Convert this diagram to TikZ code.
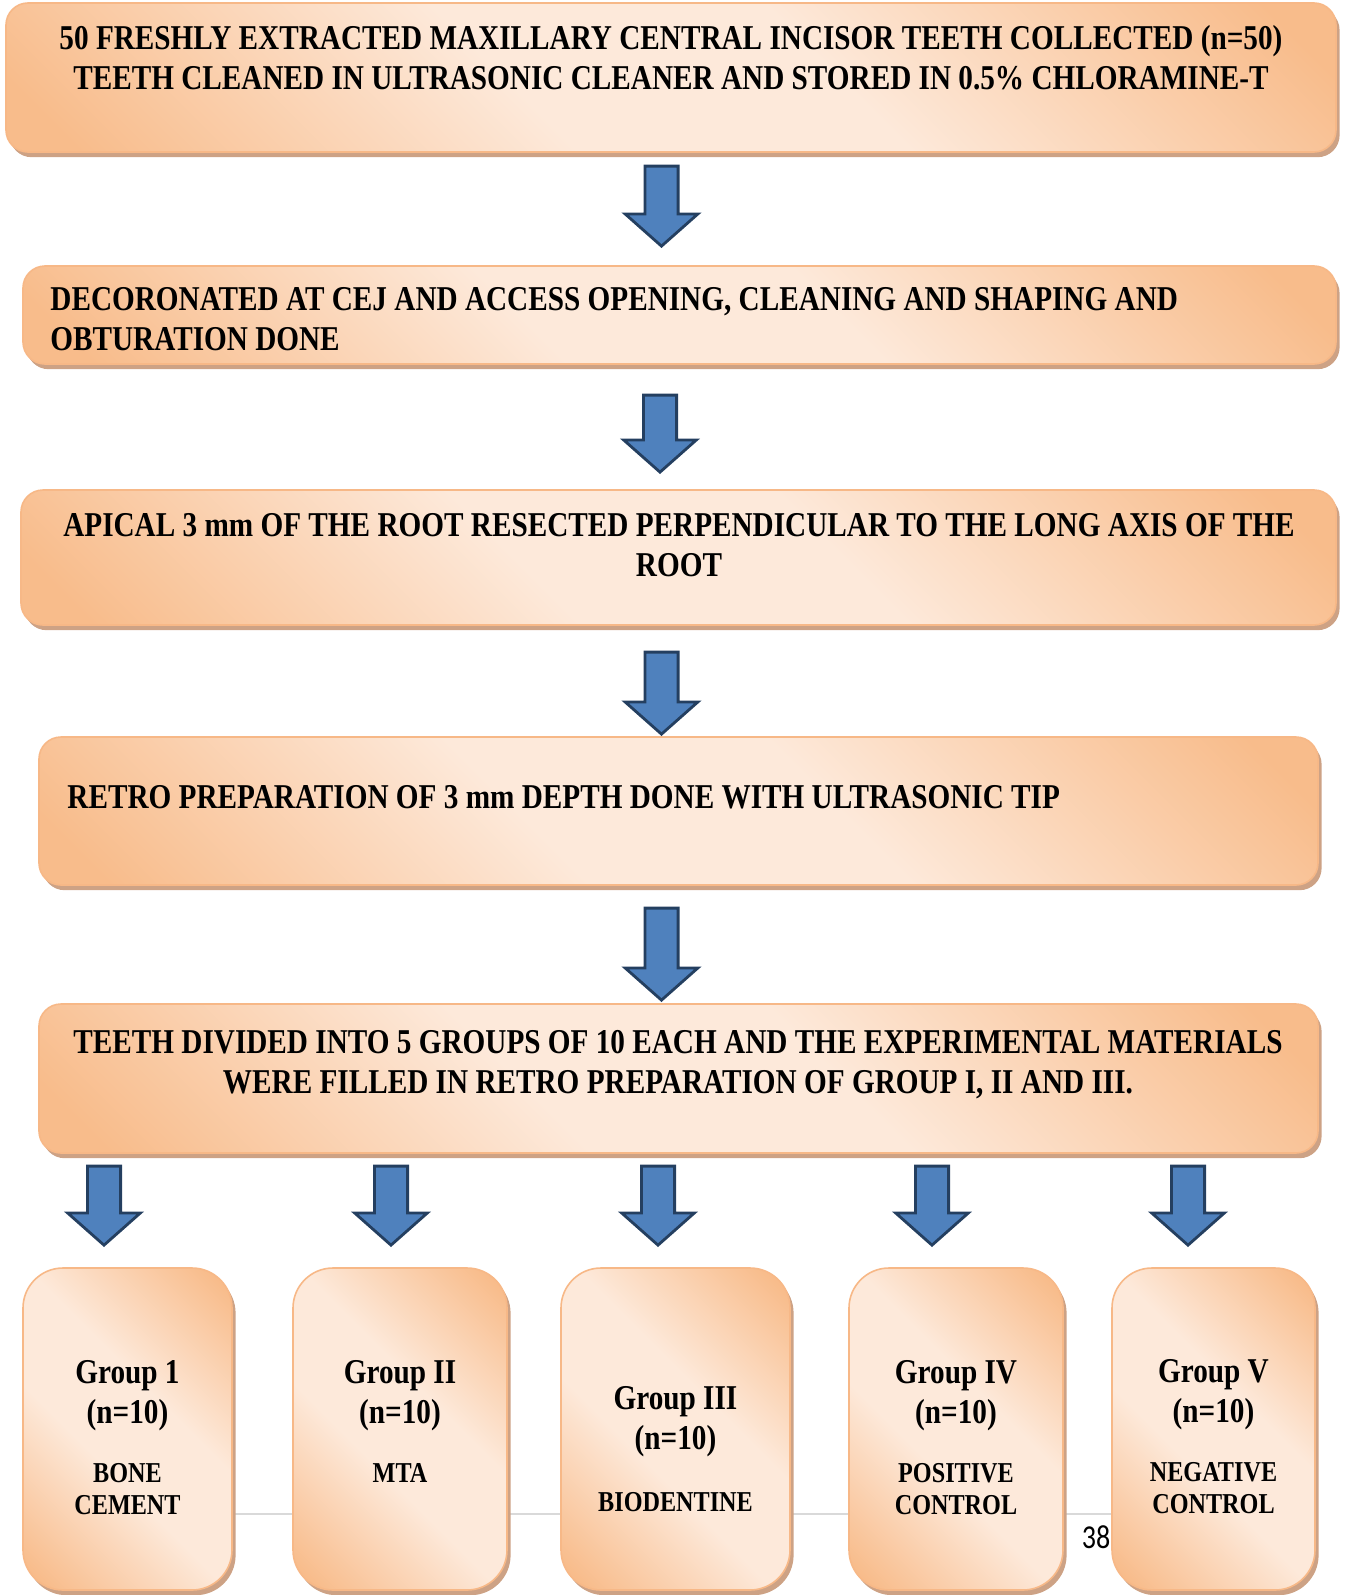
\documentclass[tikz,border=0pt]{standalone}
\usepackage{fontspec}
\setmainfont{Liberation Serif}[FakeStretch=0.84]
\newfontfamily\pagenofont{Carlito}[FakeStretch=0.84]
\usetikzlibrary{shapes.arrows,shadows}

\definecolor{peachdark}{HTML}{F8BC8B}
\definecolor{peachlight}{HTML}{FDE9DA}
\definecolor{peachedge}{HTML}{F7B887}
\definecolor{boxshadow}{HTML}{CDA285}
\definecolor{arrowblue}{HTML}{4F81BD}
\definecolor{arrowedge}{HTML}{243F60}
\definecolor{footline}{HTML}{D9D9D9}

\pgfdeclarehorizontalshading{peachband}{100bp}{color(0bp)=(peachdark);
  color(18bp)=(peachdark); color(42bp)=(peachlight); color(58bp)=(peachlight);
  color(82bp)=(peachdark); color(100bp)=(peachdark)}

\begin{document}
\begin{tikzpicture}[
  x=0.5pt, y=-0.5pt,
  font=\bfseries\fontsize{17.4}{20}\selectfont,
  stepbox/.style={shade, shading=peachband, shading angle=45, draw=peachedge,
    line width=0.8pt, rounded corners=11pt, inner sep=0pt,
    drop shadow={shadow xshift=1.8pt, shadow yshift=-2.6pt, fill=boxshadow, opacity=1}},
  groupbox/.style={stepbox, rounded corners=20pt},
  steptext/.style={inner sep=0pt, align=center},
  subtext/.style={inner sep=0pt, align=center, font=\bfseries\fontsize{14.4}{16.4}\selectfont},
  downarrow/.style={single arrow, draw=arrowedge, fill=arrowblue, line width=1.4pt,
    inner xsep=0pt, inner ysep=7.6pt, single arrow head extend=9.9pt,
    single arrow tip angle=97, rotate=-90, anchor=tip}
]
\useasboundingbox (0,0) rectangle (1346,1595);

% Sequence of preparation steps.
\node[stepbox, minimum width=665pt, minimum height=74.5pt] (b1) at (671,77.5) {};
\node[stepbox, minimum width=656.5pt, minimum height=49pt] (b2) at (679.5,315) {};
\node[stepbox, minimum width=657.5pt, minimum height=67.5pt] (b3) at (678.5,557.5) {};
\node[stepbox, minimum width=639.5pt, minimum height=74pt] (b4) at (678.5,811) {};
\node[stepbox, minimum width=639.5pt, minimum height=74.5pt] (b5) at (678.5,1078.5) {};

\node[steptext] (t1) at (671,58)
  {50 FRESHLY EXTRACTED MAXILLARY CENTRAL INCISOR TEETH COLLECTED (n=50)\\
   TEETH CLEANED IN ULTRASONIC CLEANER AND STORED IN 0.5\% CHLORAMINE-T};
\node[steptext, anchor=west, align=left] (t2) at (50,319)
  {DECORONATED AT CEJ AND ACCESS OPENING, CLEANING AND SHAPING AND\\
   OBTURATION DONE};
\node[steptext] (t3) at (679,545)
  {APICAL 3 mm OF THE ROOT RESECTED PERPENDICULAR TO THE LONG AXIS OF THE\\
   ROOT};
\node[steptext, anchor=west] (t4) at (67,797)
  {RETRO PREPARATION OF 3 mm DEPTH DONE WITH ULTRASONIC TIP};
\node[steptext] (t5) at (678,1065)
  {TEETH DIVIDED INTO 5 GROUPS OF 10 EACH AND THE EXPERIMENTAL MATERIALS\\
   WERE FILLED IN RETRO PREPARATION OF GROUP I, II AND III.};

% Page footer behind the group boxes.
\draw[footline, line width=1pt] (40,1514) -- (1300,1514);
\node[inner sep=0pt, font=\pagenofont\fontsize{16.7}{18}\selectfont] (pageno) at (1096,1537) {38};

% Groups.
\foreach \gx/\gw/\ax/\hy/\hd/\sy/\sb [count=\i] in {
  127.5/104.5/104/1396/{Group 1}/1489/{BONE\\CEMENT},
  400/107/391/1396/{Group II}/1473/{MTA},
  675.5/114.5/658/1422/{Group III}/1502/{BIODENTINE},
  956/107/932/1396/{Group IV}/1489/{POSITIVE\\CONTROL},
  1213.5/101.5/1188/1395/{Group V}/1488/{NEGATIVE\\CONTROL}} {
  \node[groupbox, minimum width=\gw pt, minimum height=161pt] (g\i) at (\gx,1429) {};
  \node[steptext] (gh\i) at (\gx,\hy) {\hd\\(n=10)};
  \node[subtext] (gs\i) at (\gx,\sy) {\sb};
  \node[downarrow, minimum height=39.5pt] (ga\i) at (\ax,1247) {};
}

% Arrows between the steps.
\node[downarrow, minimum height=40pt] (a1) at (661.5,248) {};
\node[downarrow, minimum height=38.5pt] (a2) at (660,474) {};
\node[downarrow, minimum height=41pt] (a3) at (661.5,736) {};
\node[downarrow, minimum height=46pt] (a4) at (661.5,1002) {};

\end{tikzpicture}
\end{document}
